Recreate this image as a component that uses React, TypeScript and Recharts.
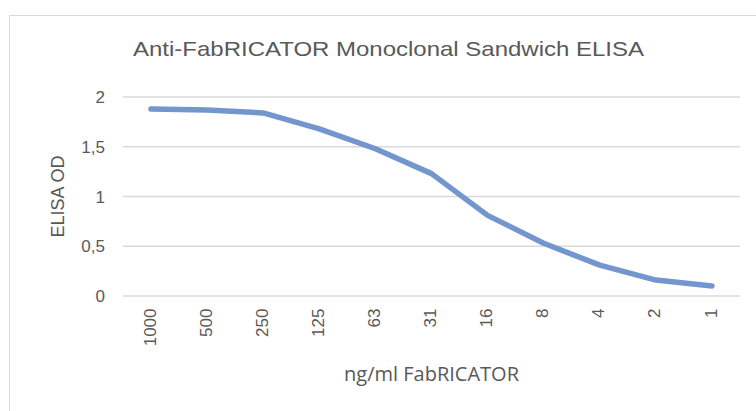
import React from "react";
import { CartesianGrid, Label, Line, LineChart, XAxis, YAxis } from "recharts";

const concentrations = ["1000", "500", "250", "125", "63", "31", "16", "8", "4", "2", "1"];
const odValues = [1.88, 1.87, 1.84, 1.68, 1.48, 1.23, 0.81, 0.53, 0.31, 0.16, 0.1];
const yTicks = [0, 0.5, 1, 1.5, 2];

const chartTitle = "Anti-FabRICATOR Monoclonal Sandwich ELISA";
const xTitle = "ng/ml FabRICATOR";
const yTitle = "ELISA OD";

const data = concentrations.map((c, i) => ({ conc: c, od: odValues[i] }));

const textColor = "#595959";
const font = "'Liberation Sans', Arial, sans-serif";

function XTick(props: any) {
  const { x, y, payload } = props;
  return (
    <text
      transform={`translate(${x - 1},${y}) rotate(-90)`}
      textAnchor="end"
      dominantBaseline="central"
      fill={textColor}
      fontSize={17}
      fontFamily={font}
    >
      {payload.value}
    </text>
  );
}

export default function App() {
  return (
    <div style={{ position: "fixed", left: 0, top: 0, width: 756, height: 411, overflow: "hidden", background: "#fff" }}>
      <div
        style={{
          position: "absolute",
          left: 9,
          top: 15,
          width: 800,
          height: 500,
          border: "1.5px solid #d9d9d9",
          boxSizing: "border-box"
        }}
      />
      <svg style={{ position: "absolute", left: 0, top: 0 }} width={756} height={80}>
        <text
          x={388.5}
          y={56}
          textAnchor="middle"
          fill={textColor}
          fontSize={21}
          fontFamily={font}
          textLength={511}
          lengthAdjust="spacingAndGlyphs"
        >
          {chartTitle}
        </text>
      </svg>
      <div style={{ position: "absolute", left: 0, top: 0 }}>
        <LineChart width={756} height={411} data={data} margin={{ top: 97, right: 16, bottom: 55, left: 63 }}>
          <CartesianGrid vertical={false} stroke="#d9d9d9" strokeWidth={1.5} />
          <XAxis
            dataKey="conc"
            height={60}
            axisLine={false}
            tickLine={false}
            tickSize={6}
            tickMargin={6.5}
            interval={0}
            padding={{ left: 28, right: 28 }}
            tick={<XTick />}
          >
            <Label
              content={(p: any) => (
                <text
                  x={p.viewBox.x + p.viewBox.width / 2}
                  y={381}
                  textAnchor="middle"
                  fill={textColor}
                  fontSize={20}
                  fontFamily="'Open Sans', sans-serif"
                >
                  {xTitle}
                </text>
              )}
            />
          </XAxis>
          <YAxis
            width={60}
            domain={[0, 2]}
            ticks={yTicks}
            axisLine={false}
            tickLine={false}
            tickSize={6}
            tickMargin={12}
            tickFormatter={(v: number) => String(v).replace(".", ",")}
            tick={{ fill: textColor, fontSize: 17, fontFamily: font }}
          >
            <Label
              content={(p: any) => (
                <text
                  transform={`translate(${p.viewBox.x - 5},${p.viewBox.y + p.viewBox.height / 2}) rotate(-90)`}
                  textAnchor="middle"
                  dominantBaseline="central"
                  fill={textColor}
                  fontSize={18}
                  fontFamily={font}
                >
                  {yTitle}
                </text>
              )}
            />
          </YAxis>
          <Line
            type="linear"
            dataKey="od"
            stroke="#7396cf"
            strokeWidth={5.5}
            strokeLinecap="round"
            strokeLinejoin="round"
            dot={false}
            activeDot={false}
            isAnimationActive={false}
          />
        </LineChart>
      </div>
    </div>
  );
}
